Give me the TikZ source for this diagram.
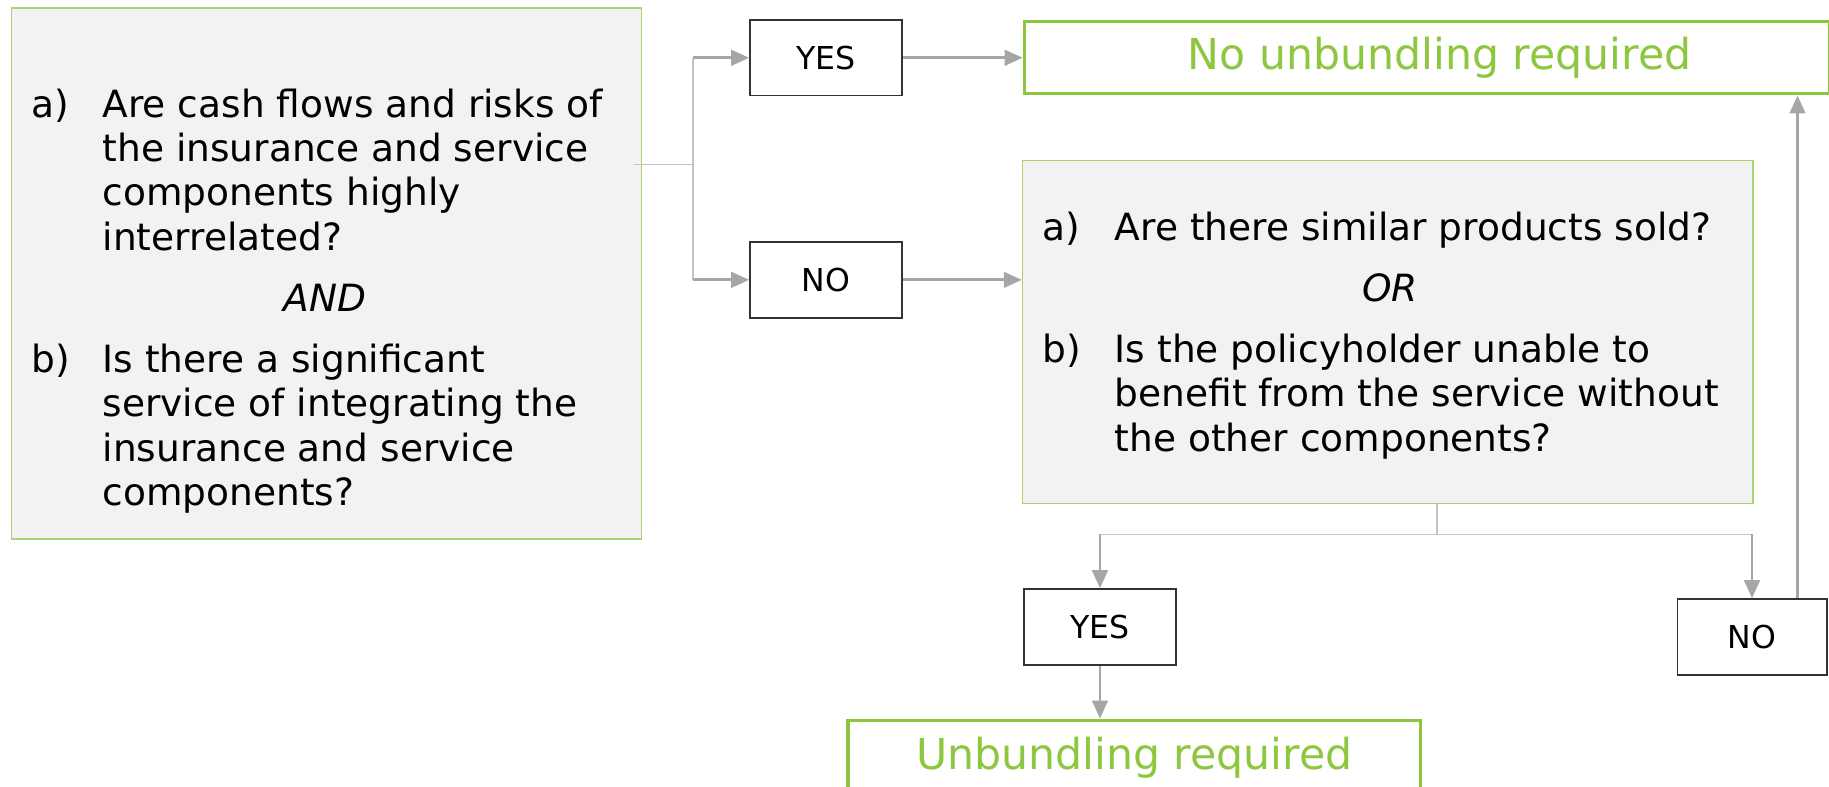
\documentclass[tikz,border=0pt]{standalone}
\usepackage{fontspec}
\setmainfont{DejaVu Sans}
\usetikzlibrary{arrows.meta,positioning,calc}

\definecolor{resgreen}{HTML}{8DC63F}
\definecolor{qgreen}{HTML}{A9D46F}
\definecolor{qfill}{HTML}{F2F2F2}
\definecolor{arrgray}{HTML}{A6A6A6}
\definecolor{thingray}{HTML}{C4C4C4}

\begin{document}
\begin{tikzpicture}[
  arr/.style={-{Triangle[length=4.4pt,width=3.8pt]}, line width=0.7pt, draw=arrgray},
  lline/.style={line width=0.35pt, draw=thingray},
  qbox/.style={draw=qgreen, fill=qfill, line width=0.4pt},
  ans/.style={draw=black!80, line width=0.4pt, minimum width=1.3cm, minimum height=0.65cm,
    font=\fontsize{7.7}{9}\selectfont},
  res/.style={draw=resgreen, line width=0.75pt, text=resgreen, minimum height=0.62cm,
    font=\fontsize{10.4}{12}\selectfont},
  qtxt/.style={anchor=base west, inner sep=0pt, font=\fontsize{9.15}{10.85}\selectfont}
]
  \useasboundingbox (0,0) rectangle (15.68,-6.74);
  \clip (0,0) rectangle (15.68,-6.74);

  % first question
  \node[qbox, minimum width=5.40cm, minimum height=4.55cm] (q1) at (2.80,-2.345) {};
  \node[qtxt] (q1txt) at ($(q1.north west)+(0.17,-0.94)$)
    {\begin{tabular}[t]{@{}p{0.61cm}@{}l@{}}
      a) & Are cash flows and risks of\\
         & the insurance and service\\
         & components highly\\
         & interrelated?\\[4pt]
      \multicolumn{2}{@{\hspace{0.14cm}}c@{}}{\itshape AND}\\[4pt]
      b) & Is there a significant\\
         & service of integrating the\\
         & insurance and service\\
         & components?
    \end{tabular}};

  \node[ans] (yes1) at (7.08,-0.495) {YES};
  \node[ans, below=1.24cm of yes1] (no1) {NO};

  \node[res, minimum width=6.90cm, right=1.03cm of yes1] (res1) {\hspace*{0.22cm}No unbundling required};

  % second question
  \node[qbox, minimum width=6.26cm, minimum height=2.94cm, anchor=north west] (q2) at (8.76,-1.37) {};
  \node[qtxt] (q2txt) at ($(q2.north west)+(0.17,-0.69)$)
    {\begin{tabular}[t]{@{}p{0.62cm}@{}l@{}}
      a) & Are there similar products sold?\\[4pt]
      \multicolumn{2}{@{\hspace{0.16cm}}c@{}}{\itshape OR}\\[4pt]
      b) & Is the policyholder unable to\\
         & benefit from the service without\\
         & the other components?
    \end{tabular}};

  \node[ans] (yes2) at (9.43,-5.375) {YES};
  \node[ans, minimum width=1.28cm] (no2) at (15.02,-5.46) {NO};

  \node[res, minimum width=4.91cm, minimum height=0.64cm, anchor=north] (res2) at (9.725,-6.16)
    {Unbundling required};

  % split after first question
  \coordinate (j1) at (5.94,-1.41);
  \draw[lline] ($(q1.east |- j1)+(-0.07,0)$) -- (j1);
  \draw[lline] (j1 |- yes1) -- (j1 |- no1);
  \draw[arr] (j1 |- yes1) -- (yes1);
  \draw[arr] (j1 |- no1) -- (no1);

  \draw[arr] (yes1.east) -- (yes1.east -| res1.west);
  \draw[arr] (no1.east) -- (no1.east -| q2.west);

  % split after second question
  \coordinate (j2) at (12.32,-4.58);
  \draw[lline] (q2.south -| j2) -- (j2);
  \draw[lline] (j2 -| yes2) -- (j2 -| no2);
  \draw[arr] (j2 -| yes2) -- (yes2);
  \draw[arr] (j2 -| no2) -- (no2);

  \draw[arr] (yes2.south) -- (yes2.south |- res2.north);
  \draw[arr] ($(no2.north)+(0.39,0)$) coordinate (up) -- (up |- res1.south);
\end{tikzpicture}
\end{document}
